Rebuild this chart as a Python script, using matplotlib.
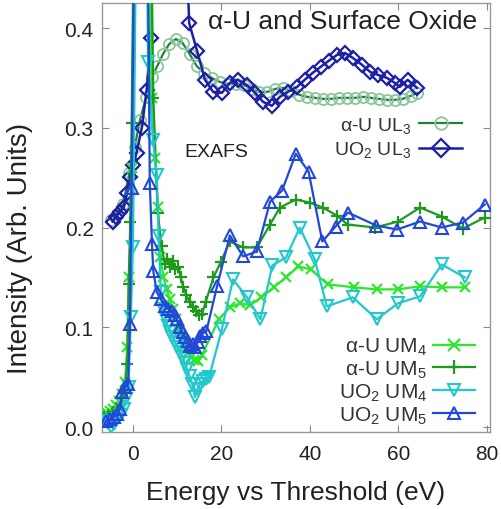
import matplotlib
matplotlib.use("Agg")
import matplotlib.pyplot as plt
from matplotlib.lines import Line2D

plt.rcParams['font.family'] = ['Liberation Sans', 'DejaVu Sans']
plt.rcParams['mathtext.default'] = 'regular'

# L3 edge, alpha-U metal
ul3_u_x = [-5.0, -3.6, -2.2, -0.8, 0.4, 1.6, 3.0, 4.3, 5.5, 6.8, 8.2, 9.7, 11.2, 12.8,
           14.4, 16.0, 17.8, 19.6, 21.4, 23.2, 25.0, 26.8, 28.6, 30.4, 32.2, 34.0, 35.8,
           37.6, 39.4, 41.2, 43.0, 44.8, 46.6, 48.4, 50.2, 52.0, 53.8, 55.6, 57.4, 59.2,
           61.0, 62.8, 64.2]
ul3_u_y = [0.208, 0.214, 0.224, 0.255, 0.281, 0.308, 0.331, 0.351, 0.362, 0.374, 0.384,
           0.389, 0.385, 0.374, 0.362, 0.355, 0.350, 0.346, 0.344, 0.344, 0.343, 0.339,
           0.336, 0.336, 0.339, 0.340, 0.337, 0.333, 0.331, 0.330, 0.329, 0.329, 0.330,
           0.330, 0.330, 0.331, 0.330, 0.329, 0.328, 0.328, 0.329, 0.332, 0.335]

# L3 edge, UO2
ul3_o_x = [-4.6, -3.8, -2.9, -2.0, -1.3, -0.6, 0.1, 0.8, 2.0, 3.1, 4.0, 5.5, 9.0, 12.7,
           14.5, 16.3, 18.1, 20.1, 21.9, 23.7, 25.7, 27.6, 29.4, 31.4, 33.2, 35.0, 37.1,
           38.8, 40.6, 42.4, 44.2, 46.1, 47.9, 49.7, 51.8, 53.6, 55.4, 57.4, 59.2, 60.3,
           62.1, 64.2]
ul3_o_y = [0.206, 0.211, 0.216, 0.221, 0.235, 0.251, 0.263, 0.275, 0.300, 0.338, 0.390,
           0.850, 0.900, 0.405, 0.377, 0.348, 0.336, 0.335, 0.345, 0.348, 0.343, 0.335,
           0.326, 0.322, 0.331, 0.336, 0.341, 0.348, 0.355, 0.361, 0.367, 0.373, 0.375,
           0.370, 0.363, 0.356, 0.353, 0.350, 0.345, 0.341, 0.348, 0.340]

# M4 edge, alpha-U
um4_u_x = [-6.6, -5.9, -5.2, -4.5, -3.8, -3.1, -2.4, -1.8, -1.3, -0.8, -0.3, 2.0, 4.2,
           5.0, 5.6, 6.2, 6.9, 7.6, 8.3, 9.0, 9.7, 10.4, 11.1, 11.8, 12.5, 13.2, 13.9,
           14.6, 15.6, 19.4, 21.9, 24.2, 26.5, 29.0, 31.8, 34.6, 37.4, 40.2, 44.0, 50.0,
           55.1, 59.8, 64.9, 69.8, 75.0]
um4_u_y = [0.012, 0.014, 0.016, 0.018, 0.022, 0.026, 0.033, 0.045, 0.080, 0.150, 0.260,
           1.150, 0.330, 0.270, 0.221, 0.170, 0.150, 0.138, 0.128, 0.118, 0.108, 0.098,
           0.090, 0.082, 0.075, 0.070, 0.067, 0.066, 0.072, 0.108, 0.120, 0.124, 0.122,
           0.130, 0.140, 0.150, 0.161, 0.158, 0.143, 0.140, 0.138, 0.138, 0.141, 0.140,
           0.140]

# M5 edge, alpha-U
um5_u_x = [-6.6, -5.6, -4.6, -3.6, -2.6, -1.9, -1.3, -1.0, -0.6, -0.3, 2.0, 4.6, 5.6,
           6.5, 7.2, 7.8, 8.4, 9.0, 9.6, 10.2, 10.8, 11.4, 12.1, 12.8, 13.5, 14.2, 14.9,
           15.6, 16.4, 18.2, 19.8, 21.9, 24.9, 28.0, 31.0, 33.2, 36.8, 40.0, 42.9, 46.1,
           48.5, 54.7, 59.9, 64.9, 69.8, 74.6, 79.5]
um5_u_y = [0.010, 0.012, 0.015, 0.018, 0.024, 0.035, 0.063, 0.143, 0.206, 0.305, 1.250,
           0.330, 0.215, 0.181, 0.163, 0.168, 0.160, 0.166, 0.158, 0.160, 0.150, 0.140,
           0.132, 0.125, 0.120, 0.116, 0.112, 0.113, 0.125, 0.150, 0.165, 0.186, 0.180,
           0.180, 0.203, 0.220, 0.228, 0.225, 0.220, 0.212, 0.203, 0.200, 0.206, 0.220,
           0.211, 0.199, 0.210]

# M4 edge, UO2
um4_o_x = [-6.3, -5.6, -4.9, -4.2, -3.5, -2.8, -2.1, -1.5, -1.0, -0.5, 0.0, 2.0, 3.4,
           4.5, 5.4, 5.8, 6.3, 6.8, 7.4, 7.9, 8.4, 8.9, 9.5, 10.0, 10.6, 11.1, 11.7,
           12.2, 12.8, 13.4, 14.0, 14.6, 15.2, 15.8, 16.5, 17.2, 20.1, 22.6, 25.8, 28.8,
           31.5, 34.6, 37.7, 41.1, 43.8, 49.7, 55.1, 59.9, 64.9, 69.8, 75.0]
um4_o_y = [0.006, 0.004, 0.000, 0.003, 0.008, 0.012, 0.018, 0.028, 0.040, 0.110, 0.180,
           1.100, 0.366, 0.288, 0.253, 0.191, 0.135, 0.118, 0.108, 0.101, 0.095, 0.090,
           0.085, 0.080, 0.075, 0.070, 0.064, 0.058, 0.051, 0.043, 0.030, 0.038, 0.043,
           0.046, 0.048, 0.050, 0.098, 0.148, 0.130, 0.108, 0.162, 0.170, 0.200, 0.168,
           0.121, 0.130, 0.108, 0.124, 0.131, 0.163, 0.150]

# M5 edge, UO2
um5_o_x = [-6.0, -5.2, -4.4, -3.6, -2.9, -2.5, -1.8, -1.1, -0.7, -0.3, 2.0, 3.8, 4.3,
           4.6, 5.4, 6.3, 7.2, 8.0, 8.8, 9.4, 9.9, 10.6, 11.2, 11.8, 12.4, 12.9, 13.5,
           14.1, 14.6, 15.1, 15.8, 16.6, 19.0, 21.9, 24.9, 28.0, 31.0, 33.7, 36.8, 39.7,
           42.8, 45.8, 48.6, 55.0, 59.7, 64.9, 69.8, 74.6, 79.5]
um5_o_y = [0.006, 0.008, 0.010, 0.013, 0.018, 0.035, 0.040, 0.043, 0.103, 0.240, 1.200,
           0.245, 0.183, 0.156, 0.135, 0.128, 0.121, 0.118, 0.116, 0.112, 0.108, 0.100,
           0.095, 0.090, 0.086, 0.081, 0.083, 0.080, 0.085, 0.091, 0.094, 0.096, 0.141,
           0.192, 0.171, 0.176, 0.226, 0.237, 0.274, 0.256, 0.186, 0.201, 0.215, 0.202,
           0.198, 0.206, 0.200, 0.205, 0.223]

c_ul3_u = '#23803f'
c_ul3_u_mk = '#8cc49c'
c_ul3_o = '#1d1fa6'
c_um4_u = '#2ee62e'
c_um5_u = '#1f9a1f'
c_um4_o = '#22c8cc'
c_um5_o = '#2348d8'

fig = plt.figure(figsize=(5.01, 5.10), dpi=100)
ax = fig.add_axes([0.2036, 0.151, 0.7744, 0.841])

ax.plot(ul3_u_x, ul3_u_y, '-', color=c_ul3_u, lw=1.6, marker='o', ms=8,
        mfc='none', mec=c_ul3_u_mk, mew=1.3, zorder=2)
ax.plot(ul3_o_x, ul3_o_y, '-', color=c_ul3_o, lw=1.8, marker='D', ms=7,
        mfc='none', mec=c_ul3_o, mew=1.6, zorder=3)
ax.plot(um4_u_x, um4_u_y, '-', color=c_um4_u, lw=1.6, marker='x', ms=7,
        mew=1.6, zorder=3)
ax.plot(um5_u_x, um5_u_y, '-', color=c_um5_u, lw=1.6, marker='+', ms=9,
        mew=1.6, zorder=3)
ax.plot(um4_o_x, um4_o_y, '-', color=c_um4_o, lw=1.6, marker='v', ms=8,
        mfc='none', mec=c_um4_o, mew=1.5, zorder=3)
ax.plot(um5_o_x, um5_o_y, '-', color=c_um5_o, lw=1.6, marker='^', ms=8,
        mfc='none', mec=c_um5_o, mew=1.5, zorder=4)

ax.set_xlim(-7.0, 80.7)
ax.set_ylim(-0.005, 0.425)
ax.set_xticks([0, 20, 40, 60, 80])
ax.set_yticks([0.0, 0.1, 0.2, 0.3, 0.4])
ax.tick_params(direction='in', length=5, width=0.8, color='#888888',
               labelsize=15, labelcolor='#222222', top=True, right=True, pad=6)
ax.tick_params(axis='x', pad=9)
for s in ax.spines.values():
    s.set_color('#999999')
    s.set_linewidth(1.0)

ax.set_xlabel('Energy vs Threshold (eV)', fontsize=19, color='#222222', labelpad=12)
ax.set_ylabel('Intensity (Arb. Units)', fontsize=20, color='#222222')
ax.yaxis.set_label_coords(-0.178, 0.43)

ax.text(0.621, 0.958, 'α-U and Surface Oxide', transform=ax.transAxes,
        ha='center', va='center', fontsize=19, color='#222222')
ax.text(18.8, 0.276, 'EXAFS', ha='center', va='center', fontsize=14, color='#222222')

h1 = [Line2D([], [], color=c_ul3_u, lw=1.6, marker='o', ms=9, mfc='none',
             mec=c_ul3_u_mk, mew=1.3),
      Line2D([], [], color=c_ul3_o, lw=1.8, marker='D', ms=9, mfc='none',
             mec=c_ul3_o, mew=1.6)]
leg1 = ax.legend(h1, ['α-U UL$_3$', 'UO$_2$ UL$_3$'], loc='upper left',
                 bbox_to_anchor=(0.554, 0.781), frameon=False, markerfirst=False,
                 fontsize=14, handlelength=2.2, labelspacing=0.25,
                 handletextpad=0.4, labelcolor='#333333')
ax.add_artist(leg1)

h2 = [Line2D([], [], color=c_um4_u, lw=1.6, marker='x', ms=9, mew=1.6),
      Line2D([], [], color=c_um5_u, lw=1.6, marker='+', ms=10, mew=1.6),
      Line2D([], [], color=c_um4_o, lw=1.6, marker='v', ms=9, mfc='none',
             mec=c_um4_o, mew=1.5),
      Line2D([], [], color=c_um5_o, lw=1.6, marker='^', ms=9, mfc='none',
             mec=c_um5_o, mew=1.5)]
ax.legend(h2, ['α-U UM$_4$', 'α-U UM$_5$', 'UO$_2$ UM$_4$', 'UO$_2$ UM$_5$'],
          loc='upper left', bbox_to_anchor=(0.562, 0.268), frameon=False,
          markerfirst=False, fontsize=15, handlelength=2.0, labelspacing=0.08,
          handletextpad=0.3, labelcolor='#333333')

fig.savefig('out.png', dpi=100)
